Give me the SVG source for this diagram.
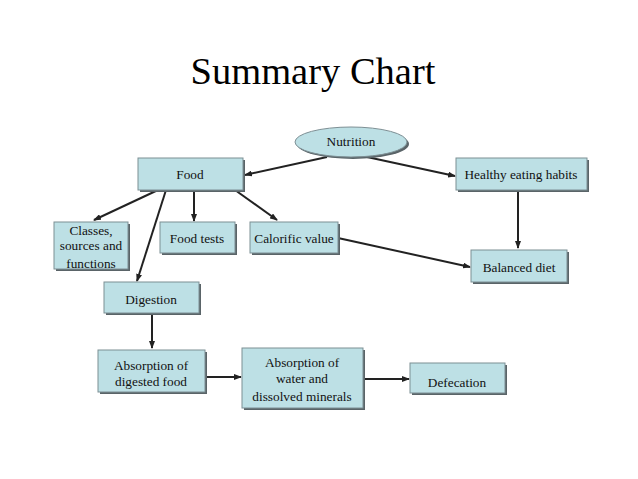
<svg xmlns="http://www.w3.org/2000/svg" width="638" height="479" viewBox="0 0 638 479">
<defs>
<marker id="ah" markerWidth="8" markerHeight="6" refX="7" refY="3" orient="auto" markerUnits="userSpaceOnUse">
<path d="M0,0 L8,3 L0,6 Z" fill="#222"/>
</marker>
</defs>
<style>
.box{fill:#bde0e5;stroke:#7d8f94;stroke-width:1}
.sh{fill:#5a6468}
.t{font-family:"Liberation Serif","Times New Roman",serif;font-size:13.3px;fill:#111;text-anchor:middle}
.c{stroke:#222;stroke-width:2;fill:none;marker-end:url(#ah)}
</style>
<rect width="638" height="479" fill="#fff"/>
<text x="313" y="84" style="font-family:'Liberation Serif','Times New Roman',serif;font-size:38.5px;fill:#000;text-anchor:middle">Summary Chart</text>
<g id="connectors">
<line class="c" x1="327" y1="157" x2="245" y2="175"/>
<line class="c" x1="367" y1="157" x2="455" y2="176"/>
<line class="c" x1="518" y1="190" x2="518" y2="248"/>
<line class="c" x1="338" y1="238" x2="470" y2="267"/>
<line class="c" x1="158" y1="190" x2="94" y2="220"/>
<line class="c" x1="166" y1="190" x2="137" y2="281"/>
<line class="c" x1="194" y1="190" x2="194" y2="221"/>
<line class="c" x1="235" y1="190" x2="277" y2="220"/>
<line class="c" x1="152" y1="313" x2="152" y2="348"/>
<line class="c" x1="205" y1="377" x2="241" y2="377"/>
<line class="c" x1="363" y1="379" x2="409" y2="379"/>
</g>
<g id="nutrition">
<ellipse cx="353" cy="144" rx="56" ry="15" class="sh"/>
<ellipse cx="351" cy="142" rx="56" ry="15" class="box"/>
<text class="t" x="351" y="146">Nutrition</text>
</g>
<g id="food">
<rect x="140" y="160" width="105" height="32" class="sh"/>
<rect x="138" y="158" width="105" height="32" class="box"/>
<text class="t" x="190" y="179">Food</text>
</g>
<g id="healthy">
<rect x="458" y="160" width="131" height="32" class="sh"/>
<rect x="456" y="158" width="131" height="32" class="box"/>
<text class="t" x="521" y="179">Healthy eating habits</text>
</g>
<g id="balanced">
<rect x="473" y="252" width="96" height="32" class="sh"/>
<rect x="471" y="250" width="96" height="32" class="box"/>
<text class="t" x="519" y="272">Balanced diet</text>
</g>
<g id="classes">
<rect x="56" y="224" width="74" height="47" class="sh"/>
<rect x="54" y="222" width="74" height="47" class="box"/>
<text class="t" x="91" y="235">Classes,</text>
<text class="t" x="91" y="250">sources and</text>
<text class="t" x="91" y="268">functions</text>
</g>
<g id="foodtests">
<rect x="162" y="224" width="75" height="31" class="sh"/>
<rect x="160" y="222" width="75" height="31" class="box"/>
<text class="t" x="197" y="243">Food tests</text>
</g>
<g id="calorific">
<rect x="252" y="224" width="88" height="31" class="sh"/>
<rect x="250" y="222" width="88" height="31" class="box"/>
<text class="t" x="294" y="243">Calorific value</text>
</g>
<g id="digestion">
<rect x="106" y="284" width="95" height="31" class="sh"/>
<rect x="104" y="282" width="95" height="31" class="box"/>
<text class="t" x="151" y="304">Digestion</text>
</g>
<g id="absorption-food">
<rect x="100" y="352" width="107" height="42" class="sh"/>
<rect x="98" y="350" width="107" height="42" class="box"/>
<text class="t" x="151" y="370">Absorption of</text>
<text class="t" x="151" y="386">digested food</text>
</g>
<g id="absorption-water">
<rect x="244" y="350" width="121" height="60" class="sh"/>
<rect x="242" y="348" width="121" height="60" class="box"/>
<text class="t" x="302" y="367">Absorption of</text>
<text class="t" x="302" y="383">water and</text>
<text class="t" x="302" y="401">dissolved minerals</text>
</g>
<g id="defecation">
<rect x="412" y="365" width="95" height="30" class="sh"/>
<rect x="410" y="363" width="95" height="30" class="box"/>
<text class="t" x="457" y="387">Defecation</text>
</g>
</svg>
